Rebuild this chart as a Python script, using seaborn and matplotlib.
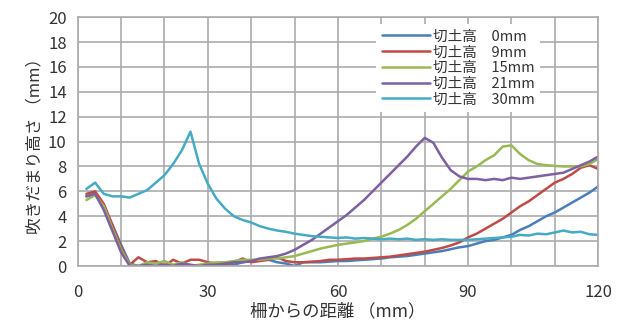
import numpy as np
import pandas as pd
import matplotlib
matplotlib.use('Agg')
import matplotlib.pyplot as plt
import seaborn as sns

# distance from fence (mm), 2 mm steps
dist = list(range(2, 121, 2))

cut_0 = [5.6, 5.8, 4.8, 3.3, 1.7, 0.2, 0.0, 0.0, 0.0, 0.1,
         0.0, 0.1, 0.0, 0.0, 0.1, 0.1, 0.2, 0.1, 0.3, 0.4,
         0.5, 0.5, 0.3, 0.2, 0.0, 0.3, 0.3, 0.3, 0.35, 0.4,
         0.4, 0.45, 0.5, 0.55, 0.6, 0.7, 0.75, 0.8, 0.9, 1.0,
         1.1, 1.2, 1.35, 1.5, 1.6, 1.8, 2.0, 2.1, 2.3, 2.5,
         2.9, 3.2, 3.6, 4.0, 4.3, 4.7, 5.1, 5.5, 5.9, 6.4]
cut_9 = [5.8, 6.0, 5.0, 3.3, 1.5, 0.1, 0.7, 0.3, 0.4, 0.0,
         0.5, 0.2, 0.5, 0.5, 0.3, 0.2, 0.1, 0.3, 0.6, 0.3,
         0.4, 0.5, 0.7, 0.4, 0.3, 0.3, 0.35, 0.4, 0.5, 0.5,
         0.55, 0.6, 0.6, 0.65, 0.7, 0.75, 0.85, 0.95, 1.05, 1.15,
         1.3, 1.45, 1.65, 1.9, 2.3, 2.6, 3.0, 3.4, 3.8, 4.3,
         4.8, 5.2, 5.7, 6.2, 6.7, 7.0, 7.4, 7.9, 8.1, 7.8]
cut_15 = [5.3, 5.7, 4.8, 3.0, 1.3, 0.1, 0.0, 0.3, 0.2, 0.4,
          0.1, 0.3, 0.0, 0.1, 0.2, 0.3, 0.3, 0.4, 0.5, 0.5,
          0.5, 0.6, 0.6, 0.7, 0.8, 1.0, 1.2, 1.4, 1.55, 1.7,
          1.8, 1.9, 2.0, 2.2, 2.35, 2.6, 2.9, 3.3, 3.8, 4.4,
          5.0, 5.6, 6.2, 6.9, 7.6, 8.0, 8.5, 8.9, 9.6, 9.7,
          9.0, 8.5, 8.2, 8.1, 8.05, 8.0, 8.0, 8.0, 8.2, 8.6]
cut_21 = [5.6, 5.8, 4.5, 2.8, 1.1, 0.0, 0.0, 0.1, 0.0, 0.1,
          0.0, 0.2, 0.1, 0.0, 0.1, 0.1, 0.2, 0.3, 0.3, 0.4,
          0.6, 0.7, 0.8, 1.0, 1.3, 1.7, 2.1, 2.6, 3.1, 3.6,
          4.1, 4.7, 5.3, 6.0, 6.7, 7.4, 8.1, 8.8, 9.6, 10.3,
          9.9, 8.7, 7.7, 7.2, 7.0, 7.0, 6.9, 7.0, 6.9, 7.1,
          7.0, 7.1, 7.2, 7.3, 7.4, 7.5, 7.8, 8.1, 8.4, 8.8]
cut_30 = [6.2, 6.7, 5.8, 5.6, 5.6, 5.5, 5.8, 6.1, 6.7, 7.3,
          8.2, 9.3, 10.8, 8.2, 6.6, 5.4, 4.6, 4.0, 3.7, 3.5,
          3.2, 3.0, 2.85, 2.75, 2.6, 2.5, 2.4, 2.35, 2.3, 2.25,
          2.3, 2.2, 2.25, 2.2, 2.15, 2.2, 2.15, 2.2, 2.1, 2.15,
          2.1, 2.15, 2.1, 2.1, 2.1, 2.15, 2.2, 2.25, 2.3, 2.35,
          2.5, 2.45, 2.6, 2.55, 2.7, 2.85, 2.7, 2.75, 2.55, 2.5]

labels = ['切土高　0mm', '切土高　9mm', '切土高　15mm', '切土高　21mm', '切土高　30mm']
colors = ['#4A7EBB', '#BE4B48', '#98B954', '#7D60A0', '#46AAC5']

frames = []
for lab, vals in zip(labels, [cut_0, cut_9, cut_15, cut_21, cut_30]):
    frames.append(pd.DataFrame({'dist': dist, 'height': vals, 'case': lab}))
df = pd.concat(frames, ignore_index=True)

sns.set_style('whitegrid')
plt.rcParams['font.family'] = ['Noto Sans CJK JP', 'DejaVu Sans']

fig = plt.figure(figsize=(6.27, 3.24), dpi=100)
ax = fig.add_axes([0.124, 0.179, 0.830, 0.768])

sns.lineplot(data=df, x='dist', y='height', hue='case', hue_order=labels,
             palette=colors, linewidth=1.8, ax=ax)

ax.set_xlim(0, 120)
ax.set_ylim(0, 20)
ax.set_xticks(range(0, 121, 10))
ax.set_xticklabels([str(v) if v % 30 == 0 else '' for v in range(0, 121, 10)])
ax.set_yticks(range(0, 21, 2))
ax.grid(True, color='#ABABAB', linewidth=1.2)
for s in ax.spines.values():
    s.set_color('#ABABAB')
    s.set_linewidth(1.2)
ax.tick_params(axis='both', length=5, width=1.2, color='#ABABAB',
               labelsize=12, labelcolor='#333333', pad=3)
ax.tick_params(axis='x', pad=8)

ax.set_xlabel('柵からの距離 （mm）', fontsize=12.5, color='#333333', labelpad=1)
ax.set_ylabel('吹きだまり高さ （mm）', fontsize=12, color='#333333', labelpad=3)

leg = ax.legend(loc='upper left', bbox_to_anchor=(0.56, 1.0), frameon=True,
                fontsize=10.5, handlelength=3.3, handletextpad=0.25,
                labelspacing=0.12, borderpad=0.35)
leg.get_frame().set_facecolor('white')
leg.get_frame().set_edgecolor('none')
leg.get_frame().set_alpha(1.0)
for t in leg.get_texts():
    t.set_color('#333333')

fig.savefig('out.png', dpi=100)
